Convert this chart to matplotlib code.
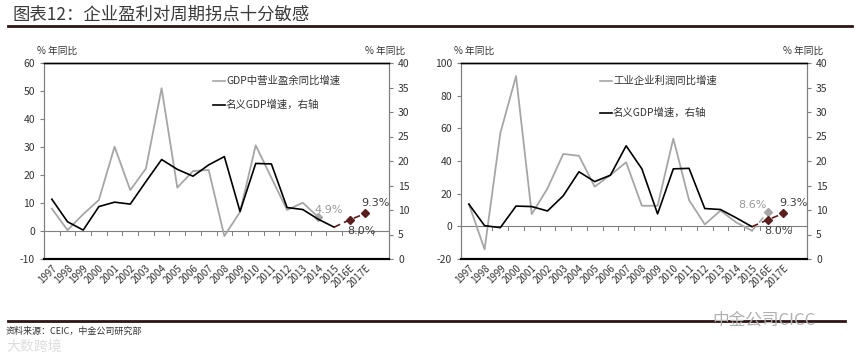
import matplotlib
matplotlib.use("Agg")
import matplotlib.pyplot as plt
import numpy as np
from matplotlib.lines import Line2D

plt.rcParams['font.family'] = ['Noto Sans CJK SC', 'DejaVu Sans']
plt.rcParams['axes.unicode_minus'] = False

# categories
years = ['1997', '1998', '1999', '2000', '2001', '2002', '2003', '2004', '2005',
         '2006', '2007', '2008', '2009', '2010', '2011', '2012', '2013', '2014',
         '2015', '2016E', '2017E']

# left panel: operating surplus yoy (left axis), 1997-2014
surplus_yoy = [8.0, 0.3, 6.0, 11.1, 30.1, 14.6, 22.3, 51.0, 15.5, 21.4, 21.8,
               -1.8, 6.8, 30.6, 19.0, 7.5, 10.1, 4.9]
# left panel: nominal GDP growth (right axis), 1997-2015
gdp_left = [12.2, 7.6, 5.9, 10.7, 11.6, 11.2, 15.8, 20.3, 18.3, 16.9, 19.2,
            20.9, 9.7, 19.5, 19.4, 10.5, 10.1, 8.1, 6.5]

# right panel: industrial profit yoy (left axis), 1997-2015, plus 2016E
profit_yoy = [13.7, -14.1, 57.0, 92.0, 7.5, 23.2, 44.3, 43.2, 24.3, 31.4, 39.2,
              12.6, 12.6, 53.7, 16.1, 1.2, 9.6, 2.4, -2.7]
profit_2016e = 8.6
# right panel: nominal GDP growth (right axis), 1997-2015
gdp_right = [11.2, 6.8, 6.4, 10.8, 10.7, 9.8, 12.9, 17.8, 15.8, 17.1, 23.1,
             18.4, 9.2, 18.4, 18.5, 10.3, 10.1, 8.4, 6.6]

# forecasts
gdp_forecast = [8.0, 9.3]  # 2016E, 2017E

W, H = 860, 358
fig = plt.figure(figsize=(W / 100, H / 100), dpi=100)


def fx(px):
    return px / W


def fy(py):
    return 1 - py / H


GRAY = '#a6a6a6'
SPINE = '#7f7f7f'
DARK = '#5a1e1e'
TXT = '#333333'


def panel(x0, x1, gray_vals, gray_lim, gray_ticks, black_vals, legend_gray,
          leg_x, leg_y2):
    ax = fig.add_axes([fx(x0), fy(259), fx(x1 - x0), fy(63) - fy(259)])
    ax2 = ax.twinx()
    n = len(years)
    xs = np.arange(n)
    ax.set_xlim(-0.5, n + 0.5)
    ax.set_ylim(*gray_lim)
    ax.set_yticks(gray_ticks)
    ax2.set_ylim(0, 40)
    ax2.set_yticks(range(0, 41, 5))

    ax.set_xticks(xs)
    ax.set_xticklabels(years, rotation=45, ha='right', rotation_mode='anchor',
                       fontsize=7, color=TXT)
    ax.tick_params(axis='x', length=0, pad=3)
    ax.tick_params(axis='y', labelsize=7.5, colors=TXT, length=3, color=SPINE)
    ax2.tick_params(axis='y', labelsize=7.5, colors=TXT, length=3, color=SPINE)

    for a in (ax, ax2):
        a.spines['top'].set_color('black')
        a.spines['top'].set_linewidth(1.0)
        a.spines['bottom'].set_color('black')
        a.spines['bottom'].set_linewidth(1.5)
        a.spines['left'].set_color(SPINE)
        a.spines['right'].set_color(SPINE)

    # zero line with category boundary ticks
    ax.axhline(0, color=SPINE, lw=0.8, zorder=1)
    span = gray_lim[1] - gray_lim[0]
    for b in np.arange(n + 1) - 0.5:
        ax.plot([b, b], [0, -span * 0.02], color=SPINE, lw=0.7, zorder=1)

    ng = len(gray_vals)
    ax.plot(xs[:ng], gray_vals, color=GRAY, lw=1.3, zorder=3)
    nb = len(black_vals)
    ax2.plot(xs[:nb], black_vals, color='black', lw=1.2, zorder=4)
    fx_x = [nb - 1, nb, nb + 1]
    ax2.plot(fx_x, [black_vals[-1]] + gdp_forecast, color=DARK, lw=1.2,
             ls=(0, (4, 2.5)), zorder=4)
    ax2.plot(fx_x[1:], gdp_forecast, ls='none', marker='D', ms=4,
             color=DARK, zorder=5)

    # "% 年同比" headers
    fig.text(fx(x0 - 7), fy(51), '% 年同比', fontsize=7, color=TXT,
             ha='left', va='center')
    fig.text(fx(x1 + 16), fy(51), '% 年同比', fontsize=7, color=TXT,
             ha='right', va='center')

    # legend
    for yy, col, lab in [(81, GRAY, legend_gray), (leg_y2, 'black', '名义GDP增速，右轴')]:
        fig.add_artist(Line2D([fx(leg_x), fx(leg_x + 12)], [fy(yy), fy(yy)],
                              color=col, lw=1.2, transform=fig.transFigure))
        fig.text(fx(leg_x + 13), fy(yy), lab, fontsize=7.5, color=TXT,
                 ha='left', va='center')

    # forecast labels
    ax2.annotate('8.0%', (nb, gdp_forecast[0]), xytext=(-3, -11),
                 textcoords='offset pixels', fontsize=8, color='#404040',
                 ha='left', va='center', family='DejaVu Sans')
    ax2.annotate('9.3%', (nb + 1, gdp_forecast[1]), xytext=(-4, 10),
                 textcoords='offset pixels', fontsize=8, color='#404040',
                 ha='left', va='center', family='DejaVu Sans')
    return ax, ax2, xs


# left panel
axL, axL2, xs = panel(44, 389, surplus_yoy, (-10, 60), range(-10, 61, 10),
                      gdp_left, 'GDP中营业盈余同比增速', 213, 105)
ng = len(surplus_yoy)
axL.plot([xs[ng - 1]], [surplus_yoy[-1]], ls='none', marker='D', ms=4,
         color=GRAY, zorder=5)
axL.annotate('4.9%', (xs[ng - 1], surplus_yoy[-1]), xytext=(-4, 7),
             textcoords='offset pixels', fontsize=8, color='#999999',
             ha='left', va='center', family='DejaVu Sans')

# right panel
axR, axR2, xs = panel(461, 807, profit_yoy, (-20, 100), range(-20, 101, 20),
                      gdp_right, '工业企业利润同比增速', 600, 113)
ng = len(profit_yoy)
axR.plot([xs[ng - 1], xs[ng]], [profit_yoy[-1], profit_2016e], color=GRAY,
         lw=1.2, ls=(0, (4, 2.5)), zorder=3)
axR.plot([xs[ng]], [profit_2016e], ls='none', marker='D', ms=4, color=GRAY,
         zorder=5)
axR.annotate('8.6%', (xs[ng], profit_2016e), xytext=(-1, 7),
             textcoords='offset pixels', fontsize=8, color='#999999',
             ha='right', va='center', family='DejaVu Sans')

# title, rules, source
fig.text(fx(13), fy(15), '图表12：企业盈利对周期拐点十分敏感', fontsize=12.5,
         color='#3a3a3a', ha='left', va='center', style='italic')
fig.add_artist(Line2D([fx(8), fx(852)], [fy(26), fy(26)], color='#2e1414',
                      lw=2.0, transform=fig.transFigure))
fig.add_artist(Line2D([fx(8), fx(845)], [fy(321), fy(321)], color='#2e1414',
                      lw=2.0, transform=fig.transFigure))
fig.text(fx(6), fy(331), '资料来源：CEIC，中金公司研究部', fontsize=6.5,
         color='#333333', ha='left', va='center', style='italic')
fig.text(fx(712), fy(320), '中金公司CICC', fontsize=12, color='#b0b0b0',
         ha='left', va='center')
fig.text(fx(6), fy(347), '大数跨境', fontsize=10, color='#dddddd',
         ha='left', va='center')

fig.savefig('out.png', dpi=100)
